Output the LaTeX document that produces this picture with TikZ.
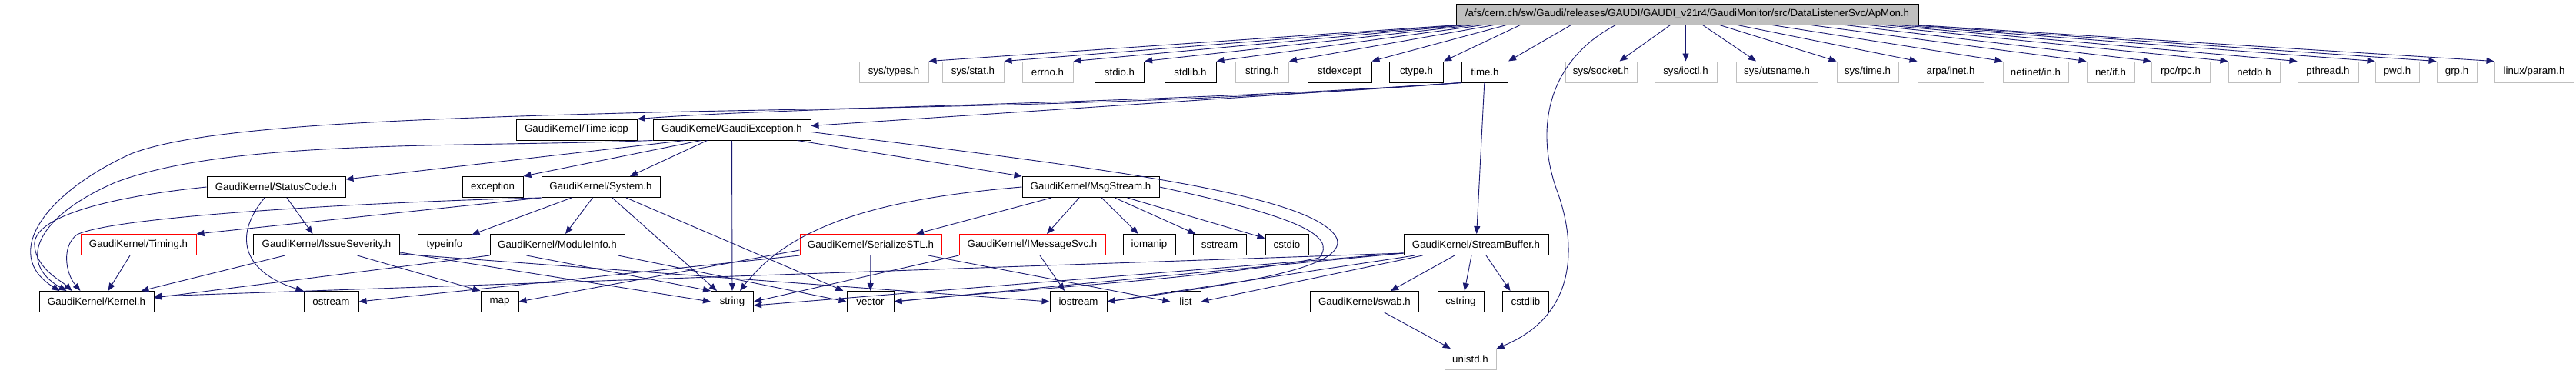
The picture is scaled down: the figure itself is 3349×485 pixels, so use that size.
\documentclass[tikz,border=0pt]{standalone}
\usepackage{fontspec}
\setmainfont{Liberation Sans}
\usetikzlibrary{arrows.meta}
\definecolor{edgec}{RGB}{25,25,112}
\definecolor{grayb}{RGB}{191,191,191}
\begin{document}
\begin{tikzpicture}[x=1pt,y=-1pt,
  box/.style={draw=black, line width=1pt, fill=white, minimum height=27pt, inner sep=0pt,
              font=\fontsize{13.3}{16}\selectfont},
  ext/.style={box, draw=grayb},
  trunc/.style={box, draw=red},
  rootbox/.style={box, fill=grayb},
  edge/.style={draw=edgec, line width=0.9pt, -{Triangle[length=10pt,width=8pt]}}]
\useasboundingbox (0,0) rectangle (3349,485);
% root
\node[rootbox, minimum width=601pt] (root) at (2193.5,18.5) {/afs/cern.ch/sw/Gaudi/releases/GAUDI/GAUDI\_v21r4/GaudiMonitor/src/DataListenerSvc/ApMon.h};
% row 1
\node[ext, minimum width=90pt] (systypes) at (1162,93.5) {sys/types.h};
\node[ext, minimum width=80pt] (sysstat) at (1265,93.5) {sys/stat.h};
\node[ext, minimum width=66pt] (errno) at (1362,93.5) {errno.h};
\node[box, minimum width=64pt] (stdio) at (1455.5,93.5) {stdio.h};
\node[box, minimum width=67pt] (stdlib) at (1547.5,93.5) {stdlib.h};
\node[ext, minimum width=69pt] (stringh) at (1641,93.5) {string.h};
\node[box, minimum width=83pt] (stdexcept) at (1741.5,93.5) {stdexcept};
\node[box, minimum width=70pt] (ctype) at (1841.5,93.5) {ctype.h};
\node[box, minimum width=60pt] (timeh) at (1930.5,93.5) {time.h};
\node[ext, minimum width=93pt] (syssocket) at (2081.5,93.5) {sys/socket.h};
\node[ext, minimum width=81pt] (sysioctl) at (2191.5,93.5) {sys/ioctl.h};
\node[ext, minimum width=106pt] (sysutsname) at (2310,93.5) {sys/utsname.h};
\node[ext, minimum width=80pt] (systime) at (2428,93.5) {sys/time.h};
\node[ext, minimum width=86pt] (arpainet) at (2536,93.5) {arpa/inet.h};
\node[ext, minimum width=85pt] (netinetin) at (2646.5,93.5) {netinet/in.h};
\node[ext, minimum width=62pt] (netif) at (2744,93.5) {net/if.h};
\node[ext, minimum width=76pt] (rpcrpc) at (2835,93.5) {rpc/rpc.h};
\node[ext, minimum width=67pt] (netdb) at (2930.5,93.5) {netdb.h};
\node[ext, minimum width=79pt] (pthread) at (3026.5,93.5) {pthread.h};
\node[ext, minimum width=57pt] (pwd) at (3116.5,93.5) {pwd.h};
\node[ext, minimum width=52pt] (grp) at (3194,93.5) {grp.h};
\node[ext, minimum width=103pt] (linuxparam) at (3294.5,93.5) {linux/param.h};
% row 2
\node[box, minimum width=157pt] (timeicpp) at (749.5,168.5) {GaudiKernel/Time.icpp};
\node[box, minimum width=205pt] (gaudiexc) at (951.5,168.5) {GaudiKernel/GaudiException.h};
% row 3
\node[box, minimum width=180pt] (statuscode) at (359,243) {GaudiKernel/StatusCode.h};
\node[box, minimum width=79pt] (exception) at (640.5,243) {exception};
\node[box, minimum width=154pt] (system) at (781,243) {GaudiKernel/System.h};
\node[box, minimum width=178pt] (msgstream) at (1418,243) {GaudiKernel/MsgStream.h};
% row 4
\node[trunc, minimum width=150pt] (timing) at (180,318) {GaudiKernel/Timing.h};
\node[box, minimum width=190pt] (issuesev) at (424.5,318) {GaudiKernel/IssueSeverity.h};
\node[box, minimum width=70pt] (typeinfo) at (578,318) {typeinfo};
\node[box, minimum width=175pt] (moduleinfo) at (724.5,318) {GaudiKernel/ModuleInfo.h};
\node[trunc, minimum width=184pt] (serialize) at (1132,318) {GaudiKernel/SerializeSTL.h};
\node[trunc, minimum width=190pt] (imessagesvc) at (1342,318) {GaudiKernel/IMessageSvc.h};
\node[box, minimum width=68pt] (iomanip) at (1494,318) {iomanip};
\node[box, minimum width=69pt] (sstream) at (1585.5,318) {sstream};
\node[box, minimum width=56pt] (cstdio) at (1673,318) {cstdio};
\node[box, minimum width=188pt] (streambuffer) at (1919,318) {GaudiKernel/StreamBuffer.h};
% row 5
\node[box, minimum width=149pt] (kernel) at (125.5,392) {GaudiKernel/Kernel.h};
\node[box, minimum width=71pt] (ostream) at (430.5,392) {ostream};
\node[box, minimum width=49pt] (map) at (649.5,392) {map};
\node[box, minimum width=55pt] (string) at (952,392) {string};
\node[box, minimum width=61pt] (vector) at (1131.5,392) {vector};
\node[box, minimum width=74pt] (iostream) at (1402,392) {iostream};
\node[box, minimum width=39pt] (list) at (1541.5,392) {list};
\node[box, minimum width=141pt] (swab) at (1774,392) {GaudiKernel/swab.h};
\node[box, minimum width=60pt] (cstring) at (1899,392) {cstring};
\node[box, minimum width=60pt] (cstdlib) at (1983.5,392) {cstdlib};
% row 6
\node[ext, minimum width=67pt] (unistd) at (1911.5,467) {unistd.h};

% ---- edges from root (left group: into top-right corners)
\foreach \t/\s in {systypes/3,sysstat/8,errno/15,stdio/25,stdlib/36,stringh/50,stdexcept/66,ctype/84,timeh/150}
  \draw[edge] ([xshift=\s pt]root.south west) -- (\t.north east);
\draw[edge] ([xshift=-22pt]root.south) -- ([xshift=24pt]syssocket.north);
\draw[edge] ([xshift=-2pt]root.south) -- (sysioctl.north);
\draw[edge] ([xshift=20pt]root.south) -- ([xshift=-27pt]sysutsname.north);
% right group: into top-left corners
\foreach \t/\s in {systime/42,arpainet/65,netinetin/110,netif/160,rpcrpc/205,netdb/235,pthread/255,pwd/272,grp/288,linuxparam/298}
  \draw[edge] ([xshift=\s pt]root.south) -- (\t.north west);
\draw[edge] ([xshift=-93pt]root.south) .. controls (2010,80) and (1995,170) .. (2025,250)
  .. controls (2050,320) and (2050,410) .. (unistd.north east);

% ---- time.h
\draw[edge] (timeh) -- (streambuffer);
\draw[edge] (timeh.south west) .. controls (1500,135) and (1050,138) .. (timeicpp.north east);
\draw[edge] (timeh.south west) -- ([yshift=5pt]gaudiexc.east);
\draw[edge] (timeh.south west) .. controls (1500,138) and (1100,140) .. (850,146)
  .. controls (500,155) and (260,165) .. (170,200)
  .. controls (60,250) and (0,330) .. ([xshift=27pt]kernel.north west);

% ---- GaudiException
\draw[edge] (gaudiexc.south west) .. controls (600,192) and (300,180) .. (150,237)
  .. controls (50,280) and (20,340) .. ([xshift=36pt]kernel.north west);
\draw[edge] ([xshift=-61pt]gaudiexc.south) -- ([yshift=-4pt]statuscode.north east);
\draw[edge] ([xshift=-40pt]gaudiexc.south) -- (exception.north east);
\draw[edge] ([xshift=-32pt]gaudiexc.south) -- ([xshift=38pt]system.north);
\draw[edge] (gaudiexc) -- (string);
\draw[edge] ([xshift=85pt]gaudiexc.south) -- (msgstream.north west);
\draw[edge] ([yshift=-3pt]gaudiexc.east) .. controls (1400,215) and (1710,250) .. (1738,310)
  .. controls (1752,350) and (1600,370) .. (iostream.east);

% ---- StatusCode
\draw[edge] (statuscode.west) .. controls (150,255) and (40,280) .. (45,320)
  .. controls (48,350) and (80,365) .. ([xshift=43pt]kernel.north west);
\draw[edge] ([xshift=-15pt]statuscode.south) .. controls (300,310) and (320,355) .. (ostream.north west);
\draw[edge] ([xshift=14pt]statuscode.south) -- ([xshift=-18pt]issuesev.north);

% ---- System
\draw[edge] (system.south west) .. controls (500,262) and (150,280) .. (100,305)
  .. controls (80,320) and (85,355) .. ([xshift=54pt]kernel.north west);
\draw[edge] (system.south west) -- (timing.north east);
\draw[edge] (system) -- (typeinfo);
\draw[edge] (system) -- (moduleinfo);
\draw[edge] ([xshift=15pt]system.south) -- ([xshift=-20pt]string.north);
\draw[edge] ([xshift=33pt]system.south) -- ([xshift=-35pt]vector.north);

% ---- Timing
\draw[edge] ([xshift=-11pt]timing.south) -- ([xshift=15pt]kernel.north);

% ---- IssueSeverity
\draw[edge] ([xshift=-54pt]issuesev.south) -- ([xshift=58pt]kernel.north);
\draw[edge] ([xshift=40pt]issuesev.south) -- (map.north west);
\draw[edge] ([yshift=-10pt]issuesev.east) -- (string.west);
\draw[edge] ([yshift=-12pt]issuesev.east) -- (iostream.west);

% ---- ModuleInfo
\draw[edge] (moduleinfo.south west) -- ([yshift=5pt]kernel.east);
\draw[edge] ([xshift=-40pt]moduleinfo.south) -- (string.north west);
\draw[edge] ([xshift=79pt]moduleinfo.south) -- (vector.west);

% ---- MsgStream
\draw[edge] ([xshift=-51pt]msgstream.south) -- ([xshift=59pt]serialize.north);
\draw[edge] ([xshift=-15pt]msgstream.south) -- ([xshift=19pt]imessagesvc.north);
\draw[edge] (msgstream) -- (iomanip);
\draw[edge] (msgstream) -- (sstream);
\draw[edge] (msgstream) -- (cstdio);
\draw[edge] (msgstream.west) .. controls (1150,258) and (1030,290) .. ([xshift=10pt]string.north);
\draw[edge] (msgstream.east) .. controls (1680,280) and (1740,305) .. (1715,335)
  .. controls (1600,360) and (1300,378) .. (vector.east);

% ---- SerializeSTL
\draw[edge] (serialize) -- (vector);
\draw[edge] ([yshift=-7pt]serialize.west) -- (map.east);
\draw[edge] ([xshift=75pt]serialize.south) -- (list.west);
\draw[edge] (serialize.south west) -- (ostream.east);

% ---- IMessageSvc
\draw[edge] (imessagesvc.south west) -- (string.east);
\draw[edge] ([xshift=10pt]imessagesvc.south) -- ([xshift=-18pt]iostream.north);

% ---- StreamBuffer
\draw[edge] ([yshift=3pt]streambuffer.south west) -- ([yshift=7pt]kernel.east);
\draw[edge] ([yshift=3pt]streambuffer.south west) -- ([yshift=-5pt]string.east);
\draw[edge] ([yshift=3pt]streambuffer.south west) -- (vector.east);
\draw[edge] ([xshift=15pt]streambuffer.south west) -- (iostream.east);
\draw[edge] ([xshift=25pt]streambuffer.south west) -- (list.east);
\draw[edge] ([xshift=-28pt]streambuffer.south) -- ([xshift=34pt]swab.north);
\draw[edge] ([xshift=-6pt]streambuffer.south) -- ([xshift=5pt]cstring.north);
\draw[edge] ([xshift=13pt]streambuffer.south) -- ([xshift=-20pt]cstdlib.north);

% ---- swab
\draw[edge] (swab) -- (unistd);
\end{tikzpicture}
\end{document}
